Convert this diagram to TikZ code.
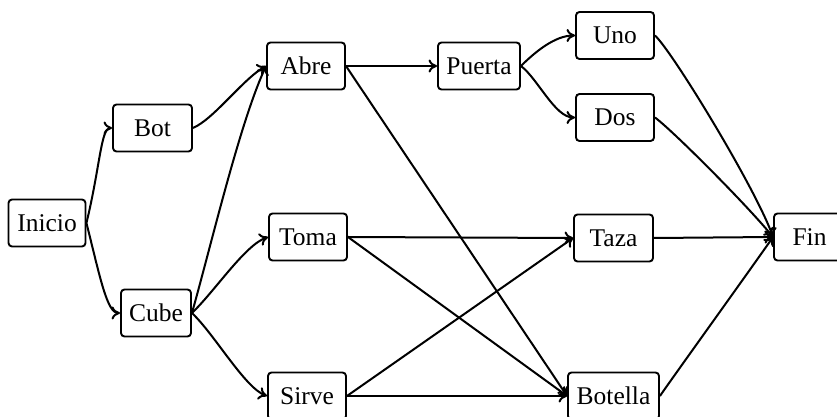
\documentclass[tikz,border=0pt]{standalone}
\usepackage{fontspec}
\setmainfont{Liberation Serif}
\usetikzlibrary{arrows.meta}

\tikzset{
  box/.style={draw, line width=1.9pt, rounded corners=3.5pt, inner sep=0pt,
    minimum height=47pt, font=\fontsize{25.5}{30}\selectfont},
  link/.style={line width=2pt, -{To[length=8.5pt,width=13pt]}}
}

\begin{document}
\begin{tikzpicture}[x=1pt,y=1pt]
\useasboundingbox (0,0) rectangle (837,417);

% first column
\node[box, minimum width=77pt] (inicio) at (47,194) {Inicio};

% second column
\node[box, minimum width=79pt] (bot)  at (152.5,289) {Bot};
\node[box, minimum width=70pt] (cube) at (156,104)   {Cube};

% third column
\node[box, minimum width=78pt] (abre)  at (306,351) {Abre};
\node[box, minimum width=78pt] (toma)  at (308,180) {Toma};
\node[box, minimum width=78pt] (sirve) at (307,21)  {Sirve};

% fourth column
\node[box, minimum width=82pt] (puerta) at (479,351) {Puerta};

% fifth column
\node[box, minimum width=78pt] (uno)     at (615,381.5) {Uno};
\node[box, minimum width=78pt] (dos)     at (615,299.5) {Dos};
\node[box, minimum width=79pt] (taza)    at (613.5,179) {Taza};
\node[box, minimum width=91pt] (botella) at (613.5,21)  {Botella};

% last column
\node[box, minimum width=71pt] (fin) at (809.5,180) {Fin};

% connectors
\draw[link] (inicio.east) .. controls (100,250) and (101,289) .. (bot.west);
\draw[link] (inicio.east) .. controls (100,140) and (107,104) .. (cube.west);

\draw[link] (bot.east) .. controls (214,298) and (243,338) .. (abre.west);

\draw[link] (cube.east) .. controls (212,175) and (240,295) .. (abre.west);
\draw[link] (cube.east) .. controls (215,126) and (245,172) .. (toma.west);
\draw[link] (cube.east) .. controls (215,82) and (245,29) .. (sirve.west);

\draw[link] (abre.east) -- (puerta.west);
\draw[link] (abre.east) -- (botella.west);

\draw[link] (puerta.east) .. controls (535,365) and (555,381.5) .. (uno.west);
\draw[link] (puerta.east) .. controls (538,338) and (555,299.5) .. (dos.west);

\draw[link] (toma.east) -- (taza.west);
\draw[link] (toma.east) -- (botella.west);
\draw[link] (sirve.east) -- (taza.west);
\draw[link] (sirve.east) -- (botella.west);

\draw[link] (uno.east) .. controls (672,366) and (755,230) .. (fin.west);
\draw[link] (dos.east) .. controls (672,287) and (745,214) .. (fin.west);
\draw[link] (taza.east) -- (fin.west);
\draw[link] (botella.east) .. controls (668,33) and (745,140) .. (fin.west);
\end{tikzpicture}
\end{document}
